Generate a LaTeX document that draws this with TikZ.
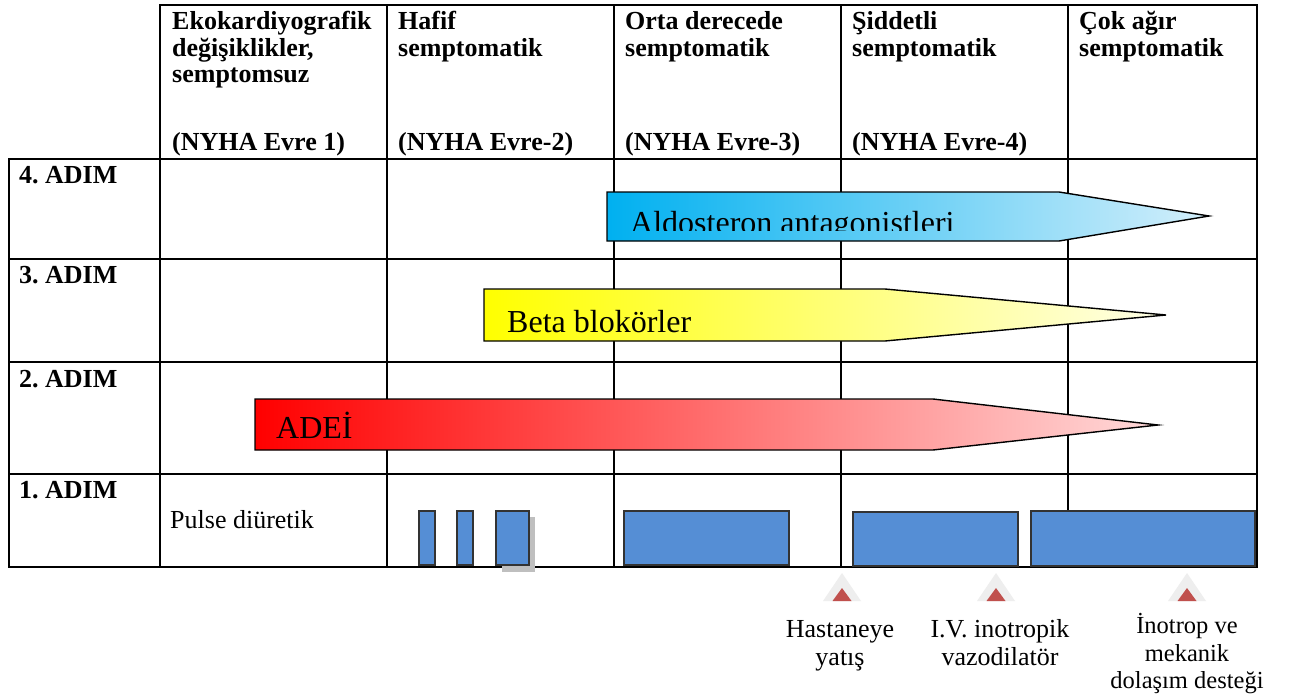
\documentclass[tikz,border=0pt]{standalone}
\usepackage{fontspec}
\setmainfont{Liberation Serif}
\frenchspacing
\definecolor{barblue}{RGB}{85,142,213}
\definecolor{arrblueL}{RGB}{0,176,240}
\definecolor{arrblueR}{RGB}{212,239,251}
\definecolor{arryelL}{RGB}{255,255,0}
\definecolor{arryelR}{RGB}{255,255,232}
\definecolor{arrredL}{RGB}{255,0,0}
\definecolor{arrredR}{RGB}{255,218,218}
\definecolor{trired}{RGB}{192,80,77}
\definecolor{halo}{RGB}{238,238,238}
\begin{document}
\frenchspacing
\begin{tikzpicture}[x=1pt,y=-1pt,
  grid/.style={line width=2pt, line cap=rect},
  hdr/.style={anchor=base west, inner sep=0pt, font=\bfseries\fontsize{26}{26}\selectfont},
  body/.style={anchor=base west, inner sep=0pt, font=\fontsize{26}{26}\selectfont},
  arrowlbl/.style={anchor=base west, inner sep=0pt, font=\fontsize{32}{32}\selectfont},
  evt/.style={anchor=base, inner sep=0pt, font=\fontsize{26}{26}\selectfont},
  evtsmall/.style={anchor=base, inner sep=0pt, font=\fontsize{24.5}{24.5}\selectfont},
  bar/.style={draw=black!80, line width=1.3pt, fill=barblue},
  arr/.style={draw=black, line width=1.4pt, line join=miter},
]
\useasboundingbox (0,0) rectangle (1295,698);
\fill[white] (0,0) rectangle (1295,698);

% table grid
\draw[grid] (160,5) -- (1257,5);
\foreach \y in {159,259,362,474,567} \draw[grid] (9,\y) -- (1257,\y);
\draw[grid] (9,159) -- (9,567);
\foreach \x in {160,387,614,841,1068,1257} \draw[grid] (\x,5) -- (\x,567);

% header texts
\node[hdr] (h1a) at (172,30) {Ekokardiyografik};
\node[hdr] (h1b) at (172,56.5) {değişiklikler,};
\node[hdr] (h1c) at (172,83) {semptomsuz};
\node[hdr] (h1d) at (172,150) {(NYHA Evre 1)};
\node[hdr] (h2a) at (398,30) {Hafif};
\node[hdr] (h2b) at (398,56.5) {semptomatik};
\node[hdr] (h2d) at (398,150) {(NYHA Evre-2)};
\node[hdr] (h3a) at (625,30) {Orta derecede};
\node[hdr] (h3b) at (625,56.5) {semptomatik};
\node[hdr] (h3d) at (625,150) {(NYHA Evre-3)};
\node[hdr] (h4a) at (852,30) {Şiddetli};
\node[hdr] (h4b) at (852,56.5) {semptomatik};
\node[hdr] (h4d) at (852,150) {(NYHA Evre-4)};
\node[hdr] (h5a) at (1079,30) {Çok ağır};
\node[hdr] (h5b) at (1079,56.5) {semptomatik};

% row labels
\node[hdr] (r4) at (19,183) {4. ADIM};
\node[hdr] (r3) at (19,283) {3. ADIM};
\node[hdr] (r2) at (19,387) {2. ADIM};
\node[hdr] (r1) at (19,498) {1. ADIM};
\node[body] (pulse) at (170,528) {Pulse diüretik};

% arrows
\draw[arr, left color=arrblueL, right color=arrblueR]
  (607,192) -- (1059,192) -- (1209,216) -- (1059,241) -- (607,241) -- cycle;
\begin{scope}
  \clip (607,192) rectangle (1209,230.5);
  \node[arrowlbl] (aldo) at (630,233) {Aldosteron antagonistleri};
\end{scope}
\draw[arr, left color=arryelL, right color=arryelR]
  (484,289) -- (885,289) -- (1166,315) -- (885,341) -- (484,341) -- cycle;
\node[arrowlbl] (beta) at (507,332) {Beta blokörler};
\draw[arr, left color=arrredL, right color=arrredR]
  (255,399) -- (933,399) -- (1158,425) -- (933,450) -- (255,450) -- cycle;
\node[arrowlbl] (adei) at (276,438) {ADEİ};

% diuretic bars
\draw[bar] (419,511) rectangle (435,565);
\draw[bar] (457,511) rectangle (473,565);
\fill[black!25] (502,517) rectangle (535,572);
\draw[bar] (496,511) rectangle (529,565);
\draw[bar] (624,511) rectangle (789,565);
\draw[bar] (853,512) rectangle (1018,566);
\draw[bar] (1031,511) rectangle (1255,566);

% event markers
\foreach \x in {842,996,1187} {
  \fill[halo] (\x,573) -- ({\x+19},601) -- ({\x-19},601) -- cycle;
  \fill[trired] (\x,588) -- ({\x+9.5},601) -- ({\x-9.5},601) -- cycle;
}
\node[evt] (e1a) at (840,637) {Hastaneye};
\node[evt] (e1b) at (840,665) {yatış};
\node[evt] (e2a) at (1000,637) {I.V. inotropik};
\node[evt] (e2b) at (1000,665) {vazodilatör};
\node[evtsmall] (e3a) at (1187,633) {İnotrop ve};
\node[evtsmall] (e3b) at (1187,661) {mekanik};
\node[evtsmall] (e3c) at (1187,688) {dolaşım desteği};
\end{tikzpicture}
\end{document}
